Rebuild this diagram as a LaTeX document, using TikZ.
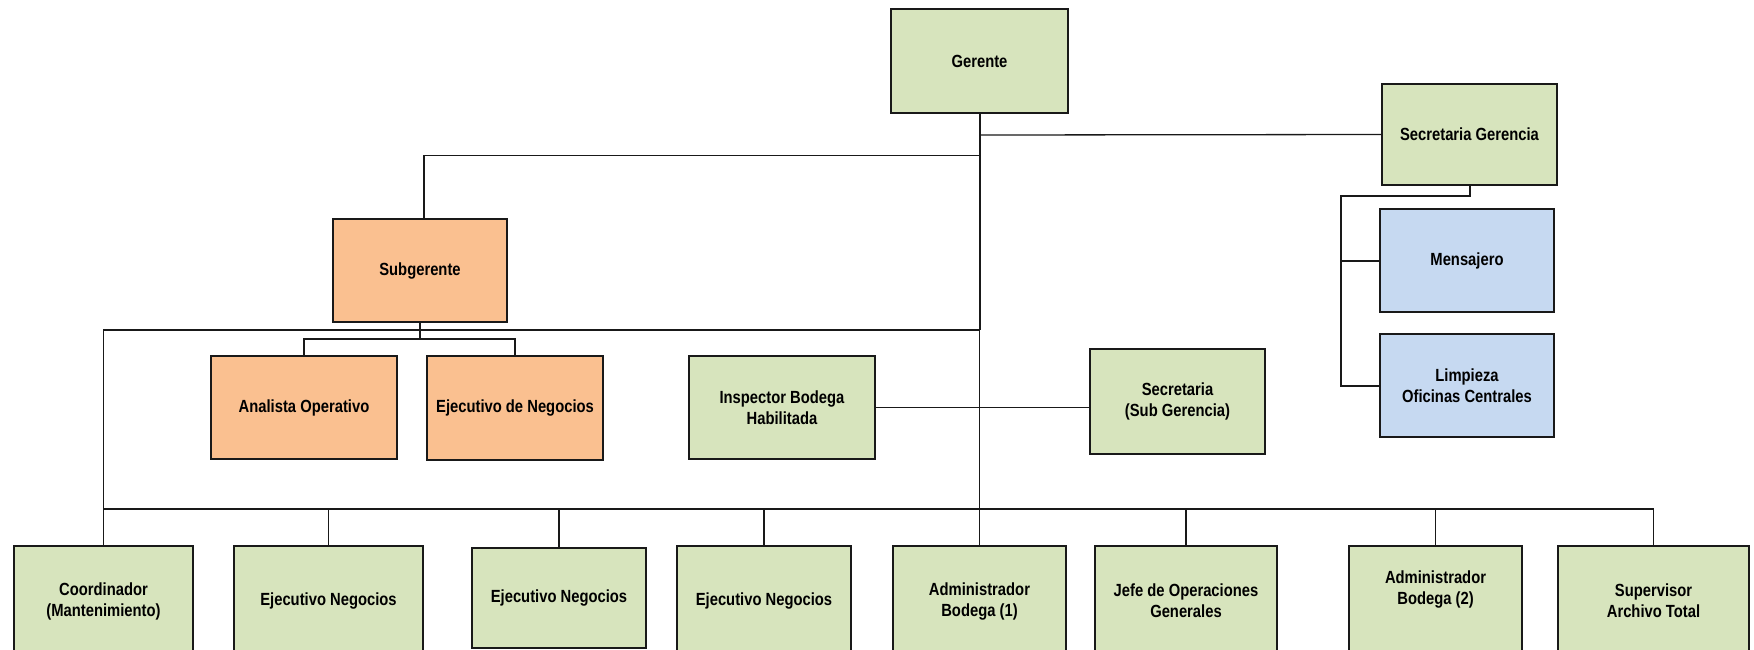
\documentclass[tikz,border=0pt]{standalone}
\usepackage{fontspec}
\setmainfont{Liberation Sans}
\newfontfamily\boxfont{Liberation Sans}[FakeStretch=0.84]
\definecolor{cgreen}{RGB}{215,228,189}
\definecolor{corange}{RGB}{250,192,144}
\definecolor{cblue}{RGB}{198,217,241}
\definecolor{cline}{RGB}{25,25,25}
\begin{document}
\begin{tikzpicture}[x=0.5pt,y=-0.5pt,
  box/.style={draw=cline,line width=0.75pt,align=center,inner sep=0pt,
    font=\boxfont\fontsize{8.8}{10.5}\selectfont\bfseries},
  gbox/.style={box,fill=cgreen},
  obox/.style={box,fill=corange},
  bbox/.style={box,fill=cblue},
  thin/.style={draw=cline,line width=0.65pt},
  thick/.style={draw=cline,line width=1pt}]
\useasboundingbox (0,0) rectangle (1754,649);
% top
\node[gbox,minimum width=88.5pt,minimum height=52pt] (ger) at (979.5,61) {Gerente};
\node[gbox,minimum width=87.5pt,minimum height=50.5pt] (secg) at (1469.5,134.5) {Secretaria Gerencia};
\node[obox,minimum width=87pt,minimum height=51.5pt] (subg) at (420,270.5) {Subgerente};
\node[obox,minimum width=93pt,minimum height=51.5pt] (ana) at (304,407.5) {Analista Operativo};
\node[obox,minimum width=88pt,minimum height=52pt] (ejn) at (515,408) {Ejecutivo de Negocios};
\node[gbox,minimum width=93pt,minimum height=51.5pt] (insp) at (782,407.5) {Inspector Bodega\\Habilitada};
\node[gbox,minimum width=87.5pt,minimum height=52.5pt] (secs) at (1177.5,401.5) {Secretaria\\(Sub Gerencia)};
\node[bbox,minimum width=87pt,minimum height=51.5pt] (mens) at (1467,260.5) {Mensajero};
\node[bbox,minimum width=87pt,minimum height=51.5pt] (limp) at (1467,385.5) {Limpieza\\Oficinas Centrales};
% bottom row
\node[gbox,minimum width=89.5pt,minimum height=55pt] (coord) at (103.5,601) {Coordinador\\(Mantenimiento)};
\node[gbox,minimum width=94.5pt,minimum height=55pt] (ej1) at (328.5,601) {Ejecutivo Negocios};
\node[gbox,minimum width=87pt,minimum height=50pt] (ej2) at (559,598) {Ejecutivo Negocios};
\node[gbox,minimum width=87pt,minimum height=55pt] (ej3) at (764,601) {Ejecutivo Negocios};
\node[gbox,minimum width=86.5pt,minimum height=55pt] (adm1) at (979.5,601) {Administrador\\Bodega (1)};
\node[gbox,minimum width=91pt,minimum height=55pt] (jefe) at (1186,601) {Jefe de Operaciones\\Generales};
\node[gbox,minimum width=86.5pt,minimum height=55pt] (adm2) at (1435.5,601) {Administrador\\Bodega (2)\\[3pt]};
\node[gbox,minimum width=95.5pt,minimum height=55pt] (sup) at (1653.5,601) {Supervisor\\Archivo Total};
% junction levels
\coordinate (ysec) at (0,135);
\coordinate (ysub) at (0,155.5);
\coordinate (yframe) at (0,330);
\coordinate (ysb) at (0,339);
\coordinate (ybus) at (0,509);
\coordinate (ysg) at (0,196);
\coordinate (xsub) at (424,0);
\coordinate (xmg) at (1341,0);
% connectors
\draw[thick] (ger.south) -- (ger.south |- yframe);
\draw[thin] (ger.south |- yframe) -- (adm1.north);
\draw[thin] (ger.south |- ysec) -- (secg.west);
\draw[thin] (ger.south |- ysub) -- (xsub |- ysub) -- (xsub |- subg.north);
\draw[thin] (ger.south |- yframe) -- (coord.north |- yframe) -- (coord.north);
\draw[thin] (subg.south) -- (subg.south |- ysb);
\draw[thin] (ana.north) -- (ana.north |- ysb) -- (ejn.north |- ysb) -- (ejn.north);
\draw[thin] (insp.east) -- (insp.east -| secs.west);
\draw[thick] (coord.north |- ybus) -- (sup.north |- ybus);
\foreach \n in {ej1,ej2,ej3,jefe,adm2,sup}{\draw[thin] (\n.north |- ybus) -- (\n.north);}
\draw[thick] (secg.south) -- (secg.south |- ysg) -- (xmg |- ysg) -- (xmg |- limp.west) -- (limp.west);
\draw[thick] (xmg |- mens.west) -- (mens.west);
\end{tikzpicture}
\end{document}
